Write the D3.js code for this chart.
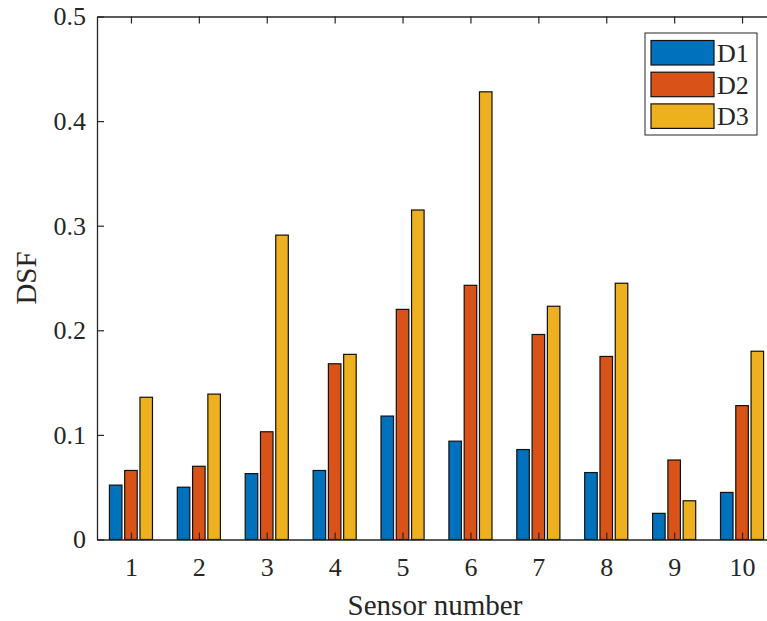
<!DOCTYPE html>
<html>
<head>
<meta charset="utf-8">
<script src="https://d3js.org/d3.v7.min.js"></script>
<style>
  body { margin: 0; background: #fff; }
</style>
</head>
<body>
<div id="wrapper"></div>
<script>
const sensors = [1, 2, 3, 4, 5, 6, 7, 8, 9, 10];
const seriesNames = ["D1", "D2", "D3"];
const d1 = [0.052, 0.050, 0.063, 0.066, 0.118, 0.094, 0.086, 0.064, 0.025, 0.045];
const d2 = [0.066, 0.070, 0.103, 0.168, 0.220, 0.243, 0.196, 0.175, 0.076, 0.128];
const d3v = [0.136, 0.139, 0.291, 0.177, 0.315, 0.428, 0.223, 0.245, 0.037, 0.180];
const yTicks = [0, 0.1, 0.2, 0.3, 0.4, 0.5];
const colors = ["#0072BD", "#D95319", "#EDB120"];
const fontStack = "'Liberation Serif', 'Times New Roman', Times, Tinos, 'Nimbus Roman', FreeSerif, 'DejaVu Serif', serif";

function drawBars() {
  const values = [d1, d2, d3v];
  const dataset = [];
  sensors.forEach((s, i) => {
    seriesNames.forEach((name, j) => {
      dataset.push({ sensor: s, series: name, value: values[j][i] });
    });
  });

  const dimensions = {
    width: 767,
    height: 621,
    margin: { top: 16.5, right: -9, bottom: 81.5, left: 97 },
  };
  dimensions.boundedWidth = dimensions.width - dimensions.margin.left - dimensions.margin.right;
  dimensions.boundedHeight = dimensions.height - dimensions.margin.top - dimensions.margin.bottom;

  const wrapper = d3.select("#wrapper")
    .append("svg")
      .attr("width", dimensions.width)
      .attr("height", dimensions.height);

  const bounds = wrapper.append("g")
    .attr("transform", `translate(${dimensions.margin.left}, ${dimensions.margin.top})`);

  const xScale = d3.scaleLinear()
    .domain([0.5, 10.5])
    .range([0, dimensions.boundedWidth]);

  const yScale = d3.scaleLinear()
    .domain([0, 0.5])
    .range([dimensions.boundedHeight, 0]);

  const inner = d3.scaleBand()
    .domain(seriesNames)
    .range([-0.3375, 0.3375])
    .paddingInner(0.18)
    .paddingOuter(0.09);

  const colorScale = d3.scaleOrdinal().domain(seriesNames).range(colors);
  const barW = xScale(inner.bandwidth()) - xScale(0);

  bounds.selectAll("rect.bar")
    .data(dataset)
    .join("rect")
      .attr("class", "bar")
      .attr("x", d => xScale(d.sensor + inner(d.series)))
      .attr("y", d => yScale(d.value))
      .attr("width", barW)
      .attr("height", d => yScale(0) - yScale(d.value))
      .attr("fill", d => colorScale(d.series))
      .attr("stroke", "#111")
      .attr("stroke-width", 1.2);

  const tickLen = 7;

  // bottom axis
  const xAxisGenerator = d3.axisBottom(xScale)
    .tickValues(sensors)
    .tickSizeInner(-tickLen)
    .tickSizeOuter(0)
    .tickPadding(18)
    .tickFormat(d3.format("d"));

  const xAxis = bounds.append("g")
    .attr("transform", `translate(0, ${dimensions.boundedHeight})`)
    .call(xAxisGenerator);

  // top axis (box)
  const xTopAxis = bounds.append("g")
    .call(d3.axisTop(xScale).tickValues(sensors).tickSizeInner(-tickLen).tickSizeOuter(0).tickFormat(""));

  // left axis
  const yAxisGenerator = d3.axisLeft(yScale)
    .tickValues(yTicks)
    .tickSizeInner(-tickLen)
    .tickSizeOuter(0)
    .tickPadding(11)
    .tickFormat(d => d === 0 ? "0" : d3.format(".1f")(d));

  const yAxis = bounds.append("g").call(yAxisGenerator);

  [xAxis, xTopAxis, yAxis].forEach(ax => {
    ax.select(".domain").attr("stroke", "#262626").attr("stroke-width", 1.3);
    ax.selectAll(".tick line").attr("stroke", "#262626").attr("stroke-width", 1.2);
    ax.selectAll("text")
      .style("font-family", fontStack)
      .style("font-size", "26px")
      .attr("fill", "#262626");
  });

  bounds.append("text")
    .attr("x", 435 - dimensions.margin.left)
    .attr("y", dimensions.boundedHeight + 75)
    .attr("text-anchor", "middle")
    .attr("fill", "#262626")
    .style("font-family", fontStack)
    .style("font-size", "29px")
    .text("Sensor number");

  bounds.append("text")
    .attr("transform", `translate(${36 - dimensions.margin.left}, ${yScale(0.25)}) rotate(-90)`)
    .attr("text-anchor", "middle")
    .attr("fill", "#262626")
    .style("font-family", fontStack)
    .style("font-size", "29px")
    .text("DSF");

  // legend
  const legend = wrapper.append("g").attr("transform", "translate(645, 33)");
  legend.append("rect")
    .attr("width", 112)
    .attr("height", 102)
    .attr("fill", "#fff")
    .attr("stroke", "#262626")
    .attr("stroke-width", 1);

  const items = legend.selectAll("g.item")
    .data(seriesNames)
    .join("g")
      .attr("class", "item")
      .attr("transform", (d, i) => `translate(6, ${7.5 + i * 31.7})`);

  items.append("rect")
    .attr("width", 63)
    .attr("height", 24.5)
    .attr("fill", d => colorScale(d))
    .attr("stroke", "#111")
    .attr("stroke-width", 1.2);

  items.append("text")
    .attr("x", 66)
    .attr("y", 21.5)
    .attr("fill", "#262626")
    .style("font-family", fontStack)
    .style("font-size", "26px")
    .text(d => d);
}

drawBars();
</script>
</body>
</html>
